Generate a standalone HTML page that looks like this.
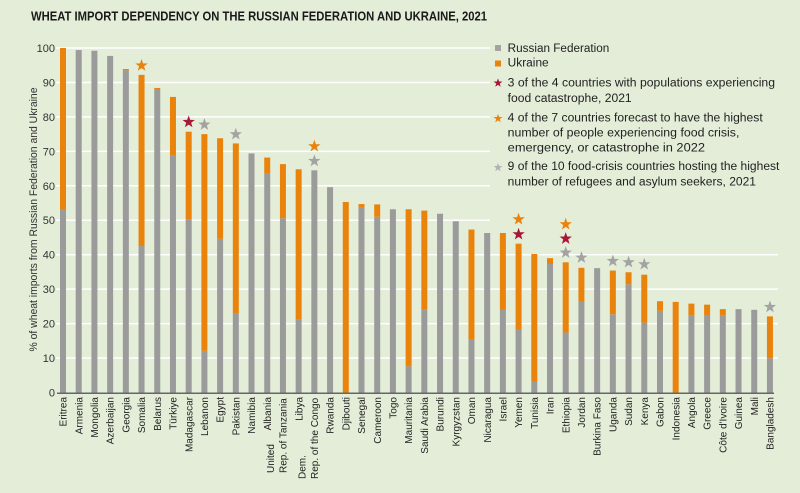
<!DOCTYPE html>
<html>
<head>
<meta charset="utf-8">
<style>
html,body{margin:0;padding:0;background:#e3edd8;}
svg{display:block;}
text{font-family:"Liberation Sans",Arial,sans-serif;}
</style>
</head>
<body>
<svg width="800" height="493" viewBox="0 0 800 493" xmlns="http://www.w3.org/2000/svg">
<defs>
<path id="st" d="M0,-6.5 L1.53,-2.1 L6.18,-2.01 L2.47,0.8 L3.82,5.26 L0,2.6 L-3.82,5.26 L-2.47,0.8 L-6.18,-2.01 L-1.53,-2.1 Z"/>
</defs>
<rect x="0" y="0" width="800" height="493" fill="#e3edd8"/>

<!-- Title -->
<text x="31" y="20.7" font-size="12.5" font-weight="bold" fill="#1a1a1a" textLength="456" lengthAdjust="spacingAndGlyphs">WHEAT IMPORT DEPENDENCY ON THE RUSSIAN FEDERATION AND UKRAINE, 2021</text>

<!-- Gridlines -->
<g stroke="#ffffff" stroke-width="1.5">
<line x1="56" y1="358.05" x2="778" y2="358.05"/>
<line x1="56" y1="323.6" x2="778" y2="323.6"/>
<line x1="56" y1="289.15" x2="778" y2="289.15"/>
<line x1="56" y1="254.7" x2="778" y2="254.7"/>
<line x1="56" y1="220.25" x2="490" y2="220.25"/>
<line x1="56" y1="185.8" x2="490" y2="185.8"/>
<line x1="56" y1="151.35" x2="490" y2="151.35"/>
<line x1="56" y1="116.9" x2="490" y2="116.9"/>
<line x1="56" y1="82.45" x2="490" y2="82.45"/>
<line x1="56" y1="48" x2="490" y2="48"/>
</g>

<!-- Y tick labels -->
<g font-size="11" fill="#333" text-anchor="end">
<text x="55" y="396.5">0</text>
<text x="55" y="362">10</text>
<text x="55" y="327.6">20</text>
<text x="55" y="293.1">30</text>
<text x="55" y="258.7">40</text>
<text x="55" y="224.2">50</text>
<text x="55" y="189.8">60</text>
<text x="55" y="155.3">70</text>
<text x="55" y="120.9">80</text>
<text x="55" y="86.4">90</text>
<text x="55" y="52">100</text>
</g>

<!-- Y axis title -->
<text transform="translate(37,219.5) rotate(-90)" font-size="11" fill="#333" text-anchor="middle" textLength="264" lengthAdjust="spacingAndGlyphs">% of wheat imports from Russian Federation and Ukraine</text>

<!-- Bars: gray -->
<g fill="#9b9b9b">
<rect x="60.00" y="209.57" width="6" height="182.93"/>
<rect x="75.71" y="50.07" width="6" height="342.43"/>
<rect x="91.42" y="50.76" width="6" height="341.74"/>
<rect x="107.13" y="55.92" width="6" height="336.58"/>
<rect x="122.84" y="70.39" width="6" height="322.11"/>
<rect x="138.55" y="246.09" width="6" height="146.41"/>
<rect x="154.26" y="89.0" width="6" height="303.5"/>
<rect x="169.97" y="155.83" width="6" height="236.67"/>
<rect x="185.68" y="219.22" width="6" height="173.28"/>
<rect x="201.39" y="350.82" width="6" height="41.68"/>
<rect x="217.10" y="238.85" width="6" height="153.65"/>
<rect x="232.81" y="313.61" width="6" height="78.89"/>
<rect x="248.52" y="153.42" width="6" height="239.08"/>
<rect x="264.23" y="173.05" width="6" height="219.45"/>
<rect x="279.94" y="218.18" width="6" height="174.32"/>
<rect x="295.65" y="319.81" width="6" height="72.69"/>
<rect x="311.36" y="170.3" width="6" height="222.2"/>
<rect x="327.07" y="187.18" width="6" height="205.32"/>
<rect x="358.49" y="207.85" width="6" height="184.65"/>
<rect x="374.20" y="216.8" width="6" height="175.7"/>
<rect x="389.91" y="209.23" width="6" height="183.27"/>
<rect x="405.62" y="366.32" width="6" height="26.18"/>
<rect x="421.33" y="309.82" width="6" height="82.68"/>
<rect x="437.04" y="213.7" width="6" height="178.8"/>
<rect x="452.75" y="221.28" width="6" height="171.22"/>
<rect x="468.46" y="339.45" width="6" height="53.05"/>
<rect x="484.17" y="233.0" width="6" height="159.5"/>
<rect x="499.88" y="309.48" width="6" height="83.02"/>
<rect x="515.59" y="329.46" width="6" height="63.04"/>
<rect x="531.30" y="381.48" width="6" height="11.02"/>
<rect x="547.01" y="264.0" width="6" height="128.5"/>
<rect x="562.72" y="332.56" width="6" height="59.94"/>
<rect x="578.43" y="301.55" width="6" height="90.95"/>
<rect x="594.14" y="268.14" width="6" height="124.36"/>
<rect x="609.85" y="314.3" width="6" height="78.2"/>
<rect x="625.56" y="284.33" width="6" height="108.17"/>
<rect x="641.27" y="322.57" width="6" height="69.93"/>
<rect x="656.98" y="310.85" width="6" height="81.65"/>
<rect x="688.40" y="315.68" width="6" height="76.82"/>
<rect x="704.11" y="314.99" width="6" height="77.51"/>
<rect x="719.82" y="315.68" width="6" height="76.82"/>
<rect x="735.53" y="309.13" width="6" height="83.37"/>
<rect x="751.24" y="309.82" width="6" height="82.68"/>
<rect x="766.95" y="358.39" width="6" height="34.11"/>
</g>

<!-- Bars: orange -->
<g fill="#e9830c">
<rect x="60.00" y="48.0" width="6" height="161.57"/>
<rect x="122.84" y="69.01" width="6" height="1.38"/>
<rect x="138.55" y="74.87" width="6" height="171.22"/>
<rect x="154.26" y="87.96" width="6" height="1.04"/>
<rect x="169.97" y="96.92" width="6" height="58.91"/>
<rect x="185.68" y="131.71" width="6" height="87.51"/>
<rect x="201.39" y="134.12" width="6" height="216.7"/>
<rect x="217.10" y="138.26" width="6" height="100.59"/>
<rect x="232.81" y="143.43" width="6" height="170.18"/>
<rect x="264.23" y="157.55" width="6" height="15.5"/>
<rect x="279.94" y="164.1" width="6" height="54.08"/>
<rect x="295.65" y="169.26" width="6" height="150.55"/>
<rect x="342.78" y="201.99" width="6" height="190.51"/>
<rect x="358.49" y="204.06" width="6" height="3.79"/>
<rect x="374.20" y="204.4" width="6" height="12.4"/>
<rect x="405.62" y="209.23" width="6" height="157.09"/>
<rect x="421.33" y="210.6" width="6" height="99.22"/>
<rect x="468.46" y="229.55" width="6" height="109.9"/>
<rect x="499.88" y="233.0" width="6" height="76.48"/>
<rect x="515.59" y="243.68" width="6" height="85.78"/>
<rect x="531.30" y="254.01" width="6" height="127.47"/>
<rect x="547.01" y="258.14" width="6" height="5.86"/>
<rect x="562.72" y="262.28" width="6" height="70.28"/>
<rect x="578.43" y="267.79" width="6" height="33.76"/>
<rect x="609.85" y="270.55" width="6" height="43.75"/>
<rect x="625.56" y="272.27" width="6" height="12.06"/>
<rect x="641.27" y="274.68" width="6" height="47.89"/>
<rect x="656.98" y="301.21" width="6" height="9.64"/>
<rect x="672.69" y="301.9" width="6" height="90.6"/>
<rect x="688.40" y="303.62" width="6" height="12.06"/>
<rect x="704.11" y="304.65" width="6" height="10.34"/>
<rect x="719.82" y="309.13" width="6" height="6.55"/>
<rect x="766.95" y="316.37" width="6" height="42.02"/>
</g>

<!-- Axis line -->
<line x1="57" y1="393.3" x2="774" y2="393.3" stroke="#666" stroke-width="1.5"/>

<!-- Stars on bars -->
<use href="#st" transform="translate(141.55,65.5)" fill="#e9830c"/>
<use href="#st" transform="translate(188.68,122)" fill="#a8173a"/>
<use href="#st" transform="translate(204.39,124.6)" fill="#a3a3a3"/>
<use href="#st" transform="translate(235.81,134.3)" fill="#a3a3a3"/>
<use href="#st" transform="translate(314.36,146.3)" fill="#e9830c"/>
<use href="#st" transform="translate(314.36,161)" fill="#a3a3a3"/>
<use href="#st" transform="translate(518.59,219.3)" fill="#e9830c"/>
<use href="#st" transform="translate(518.59,234.3)" fill="#a8173a"/>
<use href="#st" transform="translate(565.72,224.3)" fill="#e9830c"/>
<use href="#st" transform="translate(565.72,238.6)" fill="#a8173a"/>
<use href="#st" transform="translate(565.72,252.6)" fill="#a3a3a3"/>
<use href="#st" transform="translate(581.43,257.6)" fill="#a3a3a3"/>
<use href="#st" transform="translate(612.85,261)" fill="#a3a3a3"/>
<use href="#st" transform="translate(628.56,262.3)" fill="#a3a3a3"/>
<use href="#st" transform="translate(644.27,264.3)" fill="#a3a3a3"/>
<use href="#st" transform="translate(769.95,307)" fill="#a3a3a3"/>

<!-- Legend -->
<rect x="495" y="45" width="6" height="6" fill="#a3a3a3"/>
<rect x="495" y="60.5" width="6" height="6" fill="#e9830c"/>
<use href="#st" transform="translate(498,83) scale(0.72)" fill="#a8173a"/>
<use href="#st" transform="translate(498,118.5) scale(0.72)" fill="#e9830c"/>
<use href="#st" transform="translate(498,167.5) scale(0.72)" fill="#b3b3b3"/>
<g font-size="11.5" fill="#222">
<text x="507.7" y="52" textLength="101.6" lengthAdjust="spacingAndGlyphs">Russian Federation</text>
<text x="507.7" y="66.7" textLength="41" lengthAdjust="spacingAndGlyphs">Ukraine</text>
<text x="507.7" y="86.5" textLength="267.3" lengthAdjust="spacingAndGlyphs">3 of the 4 countries with populations experiencing</text>
<text x="507.7" y="101.8" textLength="124" lengthAdjust="spacingAndGlyphs">food catastrophe, 2021</text>
<text x="507.7" y="121.5" textLength="255" lengthAdjust="spacingAndGlyphs">4 of the 7 countries forecast to have the highest</text>
<text x="507.7" y="136.5" textLength="231.7" lengthAdjust="spacingAndGlyphs">number of people experiencing food crisis,</text>
<text x="507.7" y="151.5" textLength="197.3" lengthAdjust="spacingAndGlyphs">emergency, or catastrophe in 2022</text>
<text x="507.7" y="170" textLength="271.7" lengthAdjust="spacingAndGlyphs">9 of the 10 food-crisis countries hosting the highest</text>
<text x="507.7" y="185.5" textLength="248.3" lengthAdjust="spacingAndGlyphs">number of refugees and asylum seekers, 2021</text>
</g>

<!-- X labels -->
<g font-size="10" fill="#222" text-anchor="end">
<text transform="translate(63.00,397) rotate(-90)" y="3.6">Eritrea</text>
<text transform="translate(78.71,397) rotate(-90)" y="3.6">Armenia</text>
<text transform="translate(94.42,397) rotate(-90)" y="3.6">Mongolia</text>
<text transform="translate(110.13,397) rotate(-90)" y="3.6">Azerbaijan</text>
<text transform="translate(125.84,397) rotate(-90)" y="3.6">Georgia</text>
<text transform="translate(141.55,397) rotate(-90)" y="3.6">Somalia</text>
<text transform="translate(157.26,397) rotate(-90)" y="3.6">Belarus</text>
<text transform="translate(172.97,397) rotate(-90)" y="3.6">Türkiye</text>
<text transform="translate(188.68,397) rotate(-90)" y="3.6">Madagascar</text>
<text transform="translate(204.39,397) rotate(-90)" y="3.6">Lebanon</text>
<text transform="translate(220.10,397) rotate(-90)" y="3.6">Egypt</text>
<text transform="translate(235.81,397) rotate(-90)" y="3.6">Pakistan</text>
<text transform="translate(251.52,397) rotate(-90)" y="3.6">Namibia</text>
<text transform="translate(267.23,397) rotate(-90)" y="3.6">Albania</text>
<text transform="translate(298.65,397) rotate(-90)" y="3.6">Libya</text>
<text transform="translate(330.07,397) rotate(-90)" y="3.6">Rwanda</text>
<text transform="translate(345.78,397) rotate(-90)" y="3.6">Djibouti</text>
<text transform="translate(361.49,397) rotate(-90)" y="3.6">Senegal</text>
<text transform="translate(377.20,397) rotate(-90)" y="3.6">Cameroon</text>
<text transform="translate(392.91,397) rotate(-90)" y="3.6">Togo</text>
<text transform="translate(408.62,397) rotate(-90)" y="3.6">Mauritania</text>
<text transform="translate(424.33,397) rotate(-90)" y="3.6">Saudi Arabia</text>
<text transform="translate(440.04,397) rotate(-90)" y="3.6">Burundi</text>
<text transform="translate(455.75,397) rotate(-90)" y="3.6">Kyrgyzstan</text>
<text transform="translate(471.46,397) rotate(-90)" y="3.6">Oman</text>
<text transform="translate(487.17,397) rotate(-90)" y="3.6">Nicaragua</text>
<text transform="translate(502.88,397) rotate(-90)" y="3.6">Israel</text>
<text transform="translate(518.59,397) rotate(-90)" y="3.6">Yemen</text>
<text transform="translate(534.30,397) rotate(-90)" y="3.6">Tunisia</text>
<text transform="translate(550.01,397) rotate(-90)" y="3.6">Iran</text>
<text transform="translate(565.72,397) rotate(-90)" y="3.6">Ethiopia</text>
<text transform="translate(581.43,397) rotate(-90)" y="3.6">Jordan</text>
<text transform="translate(597.14,397) rotate(-90)" y="3.6">Burkina Faso</text>
<text transform="translate(612.85,397) rotate(-90)" y="3.6">Uganda</text>
<text transform="translate(628.56,397) rotate(-90)" y="3.6">Sudan</text>
<text transform="translate(644.27,397) rotate(-90)" y="3.6">Kenya</text>
<text transform="translate(659.98,397) rotate(-90)" y="3.6">Gabon</text>
<text transform="translate(675.69,397) rotate(-90)" y="3.6">Indonesia</text>
<text transform="translate(691.40,397) rotate(-90)" y="3.6">Angola</text>
<text transform="translate(707.11,397) rotate(-90)" y="3.6">Greece</text>
<text transform="translate(722.82,397) rotate(-90)" y="3.6">Côte d'Ivoire</text>
<text transform="translate(738.53,397) rotate(-90)" y="3.6">Guinea</text>
<text transform="translate(754.24,397) rotate(-90)" y="3.6">Mali</text>
<text transform="translate(769.95,397) rotate(-90)" y="3.6">Bangladesh</text>
</g>
<g font-size="10" fill="#222" text-anchor="start">
<text transform="translate(282.94,397) rotate(-90)" x="-76" y="-9">United</text>
<text transform="translate(282.94,397) rotate(-90)" x="-76" y="3.6">Rep. of Tanzania</text>
<text transform="translate(314.36,397) rotate(-90)" x="-82" y="-9">Dem.</text>
<text transform="translate(314.36,397) rotate(-90)" x="-82" y="3.6">Rep. of the Congo</text>
</g>
</svg>
</body>
</html>
